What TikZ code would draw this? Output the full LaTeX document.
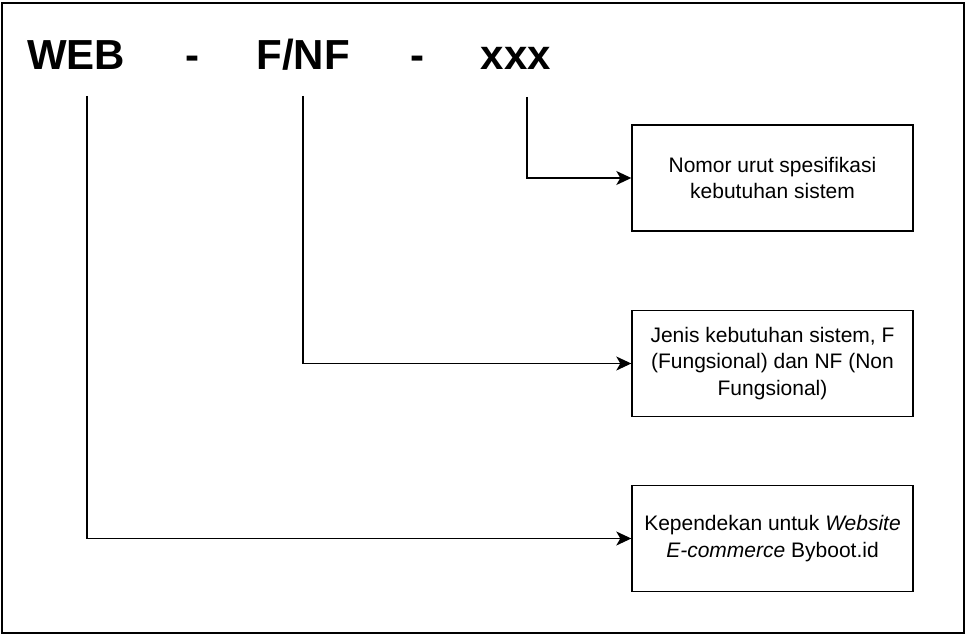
\documentclass[tikz,border=0pt]{standalone}
\usepackage{fontspec}
\setmainfont{Liberation Sans}
\usetikzlibrary{arrows.meta}
\begin{document}
\begin{tikzpicture}[x=1pt,y=-1pt,
  ttl/.style={anchor=base,font=\fontsize{42}{50}\selectfont\bfseries,inner sep=0pt},
  infobox/.style={draw,line width=1.4pt,minimum width=281pt,minimum height=106pt,align=center,font=\fontsize{21}{26.5}\selectfont},
  arr/.style={line width=1.4pt,-{Stealth[length=15pt,width=14pt,inset=4pt]}}]
\useasboundingbox (0,0) rectangle (968,636);
\draw[line width=1.6pt] (2,3) rectangle (964,633);
\node[ttl] (web) at (76,70) {WEB};
\node[ttl] (d1) at (192,70) {-};
\node[ttl] (fnf) at (303,70) {F/NF};
\node[ttl] (d2) at (417,70) {-};
\node[ttl] (xxx) at (516,70) {xxx};
\coordinate (cw) at (87,96);
\coordinate (cf) at (303,96);
\coordinate (cx) at (527,97);
\node[infobox] (b1) at (772.5,178) {Nomor urut spesifikasi\\kebutuhan sistem};
\node[infobox] (b2) at (772.5,363.5) {Jenis kebutuhan sistem, F\\(Fungsional) dan NF (Non\\Fungsional)};
\node[infobox] (b3) at (772.5,538.5) {Kependekan untuk \textit{Website}\\\textit{E-commerce} Byboot.id};
\draw[arr] (cx) |- (b1.west);
\draw[arr] (cf) |- (b2.west);
\draw[arr] (cw) |- (b3.west);
\end{tikzpicture}
\end{document}
